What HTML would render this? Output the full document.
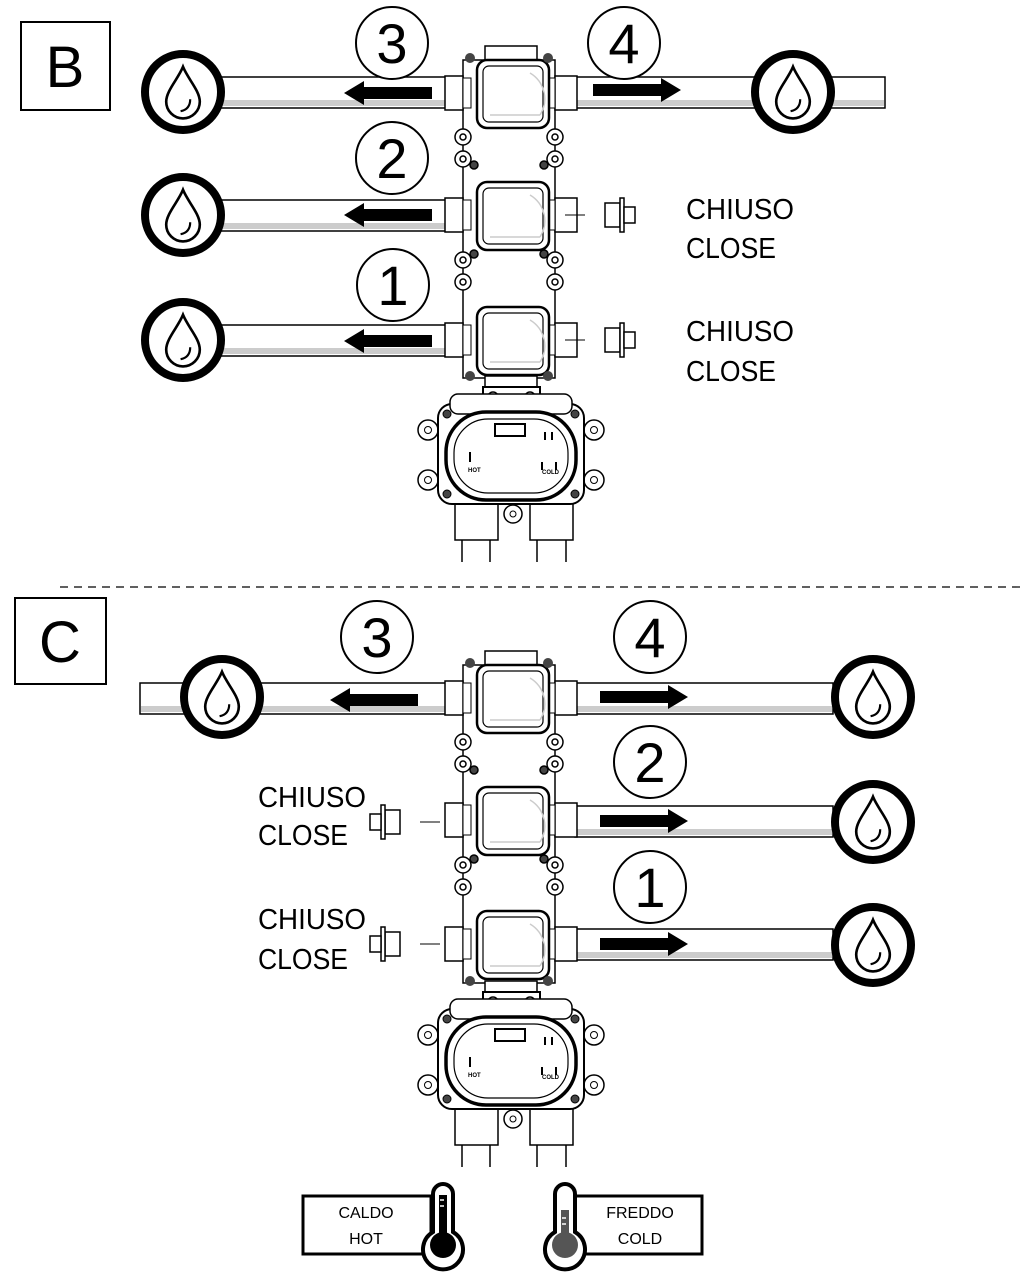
<!DOCTYPE html>
<html><head><meta charset="utf-8"><style>
html,body{margin:0;padding:0;background:#fff}
svg{display:block}
text{font-family:"Liberation Sans",sans-serif}
</style></head><body>
<svg width="1023" height="1272" viewBox="0 0 1023 1272" xmlns="http://www.w3.org/2000/svg">
<defs>
<g id="drop">
<circle r="38" fill="#fff" stroke="#000" stroke-width="8"/>
<g transform="scale(1.2)">
<path d="M0,-21 C-4,-11 -14,-1 -14,8 A14,14 0 0 0 14,8 C14,-1 4,-11 0,-21 Z" fill="none" stroke="#000" stroke-width="2.2"/>
<path d="M6,6 C6,12 3,15 -2,16" fill="none" stroke="#000" stroke-width="1.8"/>
</g>
</g>
<g id="arrL"><polygon points="0,0 20,-12 20,-6 88,-6 88,6 20,6 20,12" fill="#000"/></g>
<g id="arrR"><polygon points="0,0 -20,-12 -20,-6 -88,-6 -88,6 -20,6 -20,12" fill="#000"/></g>
<g id="mod" fill="#fff" stroke="#000">
<rect x="445" y="-17" width="18" height="34" stroke-width="1.5"/>
<rect x="463" y="-15" width="8" height="30" stroke-width="1"/>
<rect x="555" y="-17" width="22" height="34" stroke-width="1.5"/>
<rect x="548" y="-15" width="7" height="30" stroke-width="1"/>
<rect x="477" y="-33" width="72" height="68" rx="10" stroke-width="2.5"/>
<rect x="483" y="-27" width="60" height="56" rx="6" stroke-width="1.2"/>
<path d="M490,22 L540,22 M540,22 A30,30 0 0 0 530,-20" stroke="#ccc" stroke-width="1.5" fill="none"/>
</g>
<g id="ears" fill="#fff" stroke="#000" stroke-width="1.5">
<circle cx="463" cy="0" r="8"/><circle cx="463" cy="0" r="3"/>
<circle cx="555" cy="0" r="8"/><circle cx="555" cy="0" r="3"/>
<circle cx="463" cy="22" r="8"/><circle cx="463" cy="22" r="3"/>
<circle cx="555" cy="22" r="8"/><circle cx="555" cy="22" r="3"/>
<circle cx="474" cy="28" r="4" fill="#444"/><circle cx="544" cy="28" r="4" fill="#444"/>
</g>
<g id="ears2" fill="#fff" stroke="#000" stroke-width="1.5">
<circle cx="463" cy="0" r="8"/><circle cx="463" cy="0" r="3"/>
<circle cx="555" cy="0" r="8"/><circle cx="555" cy="0" r="3"/>
<circle cx="463" cy="22" r="8"/><circle cx="463" cy="22" r="3"/>
<circle cx="555" cy="22" r="8"/><circle cx="555" cy="22" r="3"/>
<circle cx="474" cy="-6" r="4" fill="#444"/><circle cx="544" cy="-6" r="4" fill="#444"/>
</g>
<g id="plugR" fill="#fff" stroke="#000" stroke-width="1.5">
<line x1="0" y1="0" x2="20" y2="0" stroke-width="1"/>
<rect x="40" y="-12" width="15" height="24"/>
<rect x="55" y="-17" width="4" height="34"/>
<rect x="59" y="-8" width="11" height="16"/>
</g>
<g id="plugL" fill="#fff" stroke="#000" stroke-width="1.5">
<line x1="0" y1="0" x2="-20" y2="0" stroke-width="1"/>
<rect x="-55" y="-12" width="15" height="24"/>
<rect x="-59" y="-17" width="4" height="34"/>
<rect x="-70" y="-8" width="11" height="16"/>
</g>
<g id="mixer" fill="#fff" stroke="#000">
<rect x="483" y="-65" width="57" height="20" stroke-width="2"/>
<circle cx="493" cy="-55" r="5" stroke-width="1.5"/><circle cx="530" cy="-55" r="5" stroke-width="1.5"/>
<rect x="455" y="50" width="43" height="38" stroke-width="1.5"/>
<rect x="530" y="50" width="43" height="38" stroke-width="1.5"/>
<line x1="462" y1="88" x2="462" y2="110" stroke-width="1.5"/><line x1="490" y1="88" x2="490" y2="110" stroke-width="1.5"/>
<line x1="537" y1="88" x2="537" y2="110" stroke-width="1.5"/><line x1="566" y1="88" x2="566" y2="110" stroke-width="1.5"/>
<circle cx="513" cy="62" r="9" stroke-width="1.5"/><circle cx="513" cy="62" r="3" stroke-width="1"/>
<circle cx="428" cy="-22" r="10" stroke-width="1.5"/><circle cx="428" cy="-22" r="3.5" stroke-width="1"/>
<circle cx="594" cy="-22" r="10" stroke-width="1.5"/><circle cx="594" cy="-22" r="3.5" stroke-width="1"/>
<circle cx="428" cy="28" r="10" stroke-width="1.5"/><circle cx="428" cy="28" r="3.5" stroke-width="1"/>
<circle cx="594" cy="28" r="10" stroke-width="1.5"/><circle cx="594" cy="28" r="3.5" stroke-width="1"/>
<rect x="438" y="-48" width="146" height="100" rx="14" stroke-width="2"/>
<rect x="450" y="-58" width="122" height="20" rx="8" stroke-width="1.5"/>
<rect x="446" y="-40" width="130" height="88" rx="40" stroke-width="3.5"/>
<rect x="454" y="-33" width="114" height="74" rx="34" stroke-width="1.2"/>
<circle cx="447" cy="-38" r="4" fill="#444"/><circle cx="575" cy="-38" r="4" fill="#444"/>
<circle cx="447" cy="42" r="4" fill="#444"/><circle cx="575" cy="42" r="4" fill="#444"/>
<rect x="495" y="-28" width="30" height="12" stroke-width="2"/>
<path d="M470,0 L470,10 M545,-20 L545,-12 M552,-20 L552,-12 M542,10 L542,18 M556,10 L556,18" stroke-width="2"/>
<text x="468" y="20" font-size="6" font-weight="bold" fill="#000" stroke="none">HOT</text>
<text x="542" y="22" font-size="6" font-weight="bold" fill="#000" stroke="none">COLD</text>
</g>
</defs>

<rect x="21" y="22" width="89" height="88" fill="#fff" stroke="#000" stroke-width="2"/>
<text x="65" y="87" font-size="58" text-anchor="middle">B</text>

<g stroke="#000" stroke-width="1.5" fill="#fff">
<rect x="220" y="77" width="228" height="31"/><rect x="575" y="77" width="310" height="31"/>
<rect x="220" y="200" width="228" height="31"/><rect x="220" y="325" width="228" height="31"/>
</g>
<g fill="#ccc"><rect x="221" y="100" width="226" height="6"/><rect x="576" y="100" width="308" height="6"/>
<rect x="221" y="223" width="226" height="6"/><rect x="221" y="348" width="226" height="6"/></g>

<rect x="463" y="60" width="92" height="318" fill="#fff" stroke="#000" stroke-width="1.5"/>
<rect x="485" y="46" width="52" height="16" fill="#fff" stroke="#000" stroke-width="1.5"/>
<rect x="485" y="376" width="52" height="14" fill="#fff" stroke="#000" stroke-width="1.5"/>
<use href="#ears" y="137"/><use href="#ears2" y="260"/>
<use href="#mod" y="93"/><use href="#mod" y="215"/><use href="#mod" y="340"/>
<circle cx="470" cy="58" r="5" fill="#444"/><circle cx="548" cy="58" r="5" fill="#444"/>
<circle cx="470" cy="376" r="5" fill="#444"/><circle cx="548" cy="376" r="5" fill="#444"/>

<use href="#drop" x="183" y="92"/><use href="#drop" x="183" y="215"/><use href="#drop" x="183" y="340"/>
<use href="#drop" x="793" y="92"/>
<use href="#arrL" x="344" y="93"/><use href="#arrL" x="344" y="215"/><use href="#arrL" x="344" y="341"/>
<use href="#arrR" x="681" y="90"/>
<use href="#plugR" x="565" y="215"/><use href="#plugR" x="565" y="340"/>

<g fill="#fff" stroke="#000" stroke-width="2">
<circle cx="392" cy="43" r="36"/><circle cx="624" cy="43" r="36"/>
<circle cx="392" cy="158" r="36"/><circle cx="393" cy="285" r="36"/></g>
<g font-size="56" text-anchor="middle">
<text x="392" y="63">3</text><text x="624" y="63">4</text>
<text x="392" y="178">2</text><text x="393" y="305">1</text></g>
<g font-size="29"><text x="686" y="219" textLength="108" lengthAdjust="spacingAndGlyphs">CHIUSO</text><text x="686" y="258" textLength="90" lengthAdjust="spacingAndGlyphs">CLOSE</text>
<text x="686" y="341" textLength="108" lengthAdjust="spacingAndGlyphs">CHIUSO</text><text x="686" y="381" textLength="90" lengthAdjust="spacingAndGlyphs">CLOSE</text></g>

<use href="#mixer" y="452"/>

<line x1="60" y1="587" x2="1023" y2="587" stroke="#000" stroke-width="1.2" stroke-dasharray="8,6"/>

<rect x="15" y="598" width="91" height="86" fill="#fff" stroke="#000" stroke-width="2"/>
<text x="60" y="662" font-size="58" text-anchor="middle">C</text>

<g stroke="#000" stroke-width="1.5" fill="#fff">
<rect x="140" y="683" width="308" height="31"/><rect x="575" y="683" width="258" height="31"/>
<rect x="575" y="806" width="258" height="31"/><rect x="575" y="929" width="258" height="31"/>
</g>
<g fill="#ccc"><rect x="141" y="706" width="306" height="6"/><rect x="576" y="706" width="256" height="6"/>
<rect x="576" y="829" width="256" height="6"/><rect x="576" y="952" width="256" height="6"/></g>

<rect x="463" y="665" width="92" height="318" fill="#fff" stroke="#000" stroke-width="1.5"/>
<rect x="485" y="651" width="52" height="16" fill="#fff" stroke="#000" stroke-width="1.5"/>
<rect x="485" y="981" width="52" height="14" fill="#fff" stroke="#000" stroke-width="1.5"/>
<use href="#ears" y="742"/><use href="#ears2" y="865"/>
<use href="#mod" y="698"/><use href="#mod" y="820"/><use href="#mod" y="944"/>
<circle cx="470" cy="663" r="5" fill="#444"/><circle cx="548" cy="663" r="5" fill="#444"/>
<circle cx="470" cy="981" r="5" fill="#444"/><circle cx="548" cy="981" r="5" fill="#444"/>

<use href="#drop" x="222" y="697"/>
<use href="#drop" x="873" y="697"/><use href="#drop" x="873" y="822"/><use href="#drop" x="873" y="945"/>
<use href="#arrL" x="330" y="700"/>
<use href="#arrR" x="688" y="697"/><use href="#arrR" x="688" y="821"/><use href="#arrR" x="688" y="944"/>
<use href="#plugL" x="440" y="822"/><use href="#plugL" x="440" y="944"/>

<g fill="#fff" stroke="#000" stroke-width="2">
<circle cx="377" cy="637" r="36"/><circle cx="650" cy="637" r="36"/>
<circle cx="650" cy="762" r="36"/><circle cx="650" cy="887" r="36"/></g>
<g font-size="56" text-anchor="middle">
<text x="377" y="657">3</text><text x="650" y="657">4</text>
<text x="650" y="782">2</text><text x="650" y="907">1</text></g>
<g font-size="29"><text x="258" y="807" textLength="108" lengthAdjust="spacingAndGlyphs">CHIUSO</text><text x="258" y="845" textLength="90" lengthAdjust="spacingAndGlyphs">CLOSE</text>
<text x="258" y="929" textLength="108" lengthAdjust="spacingAndGlyphs">CHIUSO</text><text x="258" y="969" textLength="90" lengthAdjust="spacingAndGlyphs">CLOSE</text></g>

<use href="#mixer" y="1057"/>

<rect x="303" y="1196" width="128" height="58" fill="#fff" stroke="#000" stroke-width="3"/>
<text x="366" y="1218" font-size="16" text-anchor="middle">CALDO</text>
<text x="366" y="1244" font-size="16" text-anchor="middle">HOT</text>
<path d="M433,1232 L433,1194 A10,10 0 0 1 453,1194 L453,1232 A20,20 0 1 1 433,1232 Z" fill="#fff" stroke="#000" stroke-width="4"/>
<circle cx="443" cy="1245" r="13" fill="#000"/><rect x="439" y="1195" width="8" height="45" fill="#000"/>
<path d="M440,1200 h4 M440,1206 h4" stroke="#fff" stroke-width="1.5"/>

<rect x="575" y="1196" width="127" height="58" fill="#fff" stroke="#000" stroke-width="3"/>
<text x="640" y="1218" font-size="16" text-anchor="middle">FREDDO</text>
<text x="640" y="1244" font-size="16" text-anchor="middle">COLD</text>
<path d="M555,1232 L555,1194 A10,10 0 0 1 575,1194 L575,1232 A20,20 0 1 1 555,1232 Z" fill="#fff" stroke="#000" stroke-width="4"/>
<circle cx="565" cy="1245" r="13" fill="#555"/><rect x="561" y="1210" width="8" height="32" fill="#555"/>
<path d="M562,1218 h4 M562,1224 h4" stroke="#fff" stroke-width="1.5"/>
</svg>
</body></html>
